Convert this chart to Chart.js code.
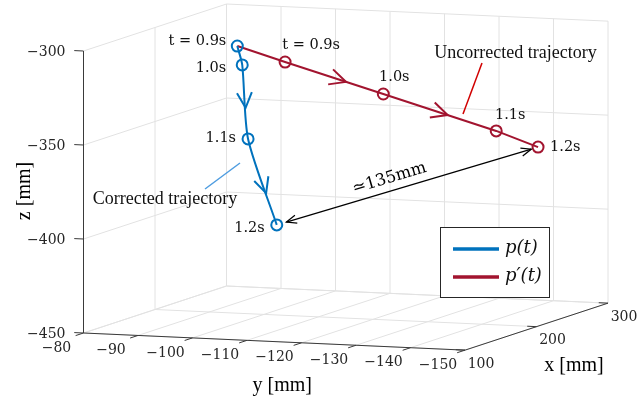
<!DOCTYPE html>
<html><head><meta charset="utf-8">
<script src="https://cdn.jsdelivr.net/npm/chart.js@4.4.0/dist/chart.umd.min.js"></script>
<style>html,body{margin:0;padding:0;background:#fff}canvas{display:block}</style>
</head><body>
<canvas id="c" width="639" height="402"></canvas>
<script>
// ---------------- data ----------------
const timesP = ['t = 0.9s', '1.0s', '1.1s', '1.2s'];
const pX = [200, 197, 180, 150];
const pY = [-95.1, -96.4, -99.7, -108.9];
const pZ = [-307.9, -317.4, -354.2, -395.0];

const timesQ = ['', 't = 0.9s', '1.0s', '1.1s', '1.2s'];
const qX = [200, 215, 235, 258, 270];
const qY = [-95.1, -101.9, -117.3, -135.0, -141.1];
const qZ = [-307.9, -317.4, -334.9, -355.1, -364.4];

const xTicks = [100, 200, 300];
const yTicks = [-80, -90, -100, -110, -120, -130, -140, -150];
const zTicks = [-450, -400, -350, -300];
const distLabel = '\u2243135mm';
const seriesNames = ['p(t)', 'p\u2032(t)'];

// ---------------- 3D view (orthographic) ----------------
const XL = [100, 300], YL = [-80, -150], ZL = [-450, -300];
const ORIGIN = [83.5, 333], EX = [0.715, -0.235], EY = [-5.45, -0.245], EZ = [0, -1.88];
function proj(x, y, z) {
  return {
    x: ORIGIN[0] + (x - XL[0]) * EX[0] + (y - YL[0]) * EY[0] + (z - ZL[0]) * EZ[0],
    y: ORIGIN[1] + (x - XL[0]) * EX[1] + (y - YL[0]) * EY[1] + (z - ZL[0]) * EZ[1]
  };
}
const pPts = pX.map((x, i) => proj(x, pY[i], pZ[i]));
const qPts = qX.map((x, i) => proj(x, qY[i], qZ[i]));

const BLUE = '#0072BD', RED = '#A2142F', GRID = '#e2e2e2', AXIS = '#3a3a3a';
const TICKFONT = '14px "DejaVu Serif"';
const TIMEFONT = '14.5px "DejaVu Serif"';
const TEXTFONT = '18px "Liberation Serif"';
const AXFONT = '20px "Liberation Serif"';

function px(chart, p) {
  return { x: chart.scales.x.getPixelForValue(p.x), y: chart.scales.y.getPixelForValue(p.y) };
}
function seg(ctx, a, b, color, w) {
  ctx.save(); ctx.strokeStyle = color; ctx.lineWidth = w; ctx.beginPath();
  ctx.moveTo(a.x, a.y); ctx.lineTo(b.x, b.y); ctx.stroke(); ctx.restore();
}
function seg3(chart, a, b, color, w) {
  seg(chart.ctx, px(chart, proj(a[0], a[1], a[2])), px(chart, proj(b[0], b[1], b[2])), color, w);
}
function text(ctx, s, p, font, align, color, rot) {
  ctx.save(); ctx.font = font; ctx.fillStyle = color || '#000';
  ctx.textAlign = align || 'center'; ctx.textBaseline = 'middle';
  ctx.translate(p.x, p.y); if (rot) ctx.rotate(rot);
  ctx.fillText(s, 0, 0); ctx.restore();
}
function chevron(ctx, apex, dir, len, ang, color, w) {
  const c = Math.cos(ang), s = Math.sin(ang);
  const bx = -dir.x, by = -dir.y;
  const w1 = { x: apex.x + len * (bx * c - by * s), y: apex.y + len * (bx * s + by * c) };
  const w2 = { x: apex.x + len * (bx * c + by * s), y: apex.y + len * (-bx * s + by * c) };
  ctx.save(); ctx.strokeStyle = color; ctx.lineWidth = w; ctx.lineJoin = 'miter';
  ctx.beginPath(); ctx.moveTo(w1.x, w1.y); ctx.lineTo(apex.x, apex.y); ctx.lineTo(w2.x, w2.y); ctx.stroke();
  ctx.restore();
}
function norm(a, b) { const dx = b.x - a.x, dy = b.y - a.y, L = Math.hypot(dx, dy); return { x: dx / L, y: dy / L, L }; }

const backPlugin = {
  id: 'back3d',
  beforeDatasetsDraw(chart) {
    const ctx = chart.ctx;
    // left wall (y = -80)
    xTicks.forEach(x => seg3(chart, [x, YL[0], ZL[0]], [x, YL[0], ZL[1]], GRID, 1));
    zTicks.forEach(z => seg3(chart, [XL[0], YL[0], z], [XL[1], YL[0], z], GRID, 1));
    // back wall (x = 300)
    yTicks.forEach(y => seg3(chart, [XL[1], y, ZL[0]], [XL[1], y, ZL[1]], GRID, 1));
    zTicks.forEach(z => seg3(chart, [XL[1], YL[0], z], [XL[1], YL[1], z], GRID, 1));
    // floor
    xTicks.forEach(x => seg3(chart, [x, YL[0], ZL[0]], [x, YL[1], ZL[0]], GRID, 1));
    yTicks.forEach(y => seg3(chart, [XL[0], y, ZL[0]], [XL[1], y, ZL[0]], GRID, 1));
    // axis lines
    seg3(chart, [XL[0], YL[0], ZL[0]], [XL[0], YL[0], ZL[1]], AXIS, 1);
    seg3(chart, [XL[0], YL[0], ZL[0]], [XL[0], YL[1], ZL[0]], AXIS, 1);
    seg3(chart, [XL[0], YL[1], ZL[0]], [XL[1], YL[1], ZL[0]], AXIS, 1);
    // ticks + labels
    zTicks.forEach(z => {
      seg3(chart, [XL[0], YL[0], z], [XL[0], YL[0] + 1.7, z], AXIS, 1);
      const p = px(chart, proj(XL[0], YL[0], z));
      text(ctx, '\u2212' + Math.abs(z), { x: p.x - 18, y: p.y + 1 }, TICKFONT, 'right', '#262626');
    });
    yTicks.forEach(y => {
      seg3(chart, [XL[0], y, ZL[0]], [XL[0] - 11, y, ZL[0]], AXIS, 1);
      const p = px(chart, proj(XL[0], y, ZL[0]));
      text(ctx, '\u2212' + Math.abs(y), { x: p.x - 27, y: p.y + 15 }, TICKFONT, 'center', '#262626');
    });
    xTicks.forEach(x => {
      seg3(chart, [x, YL[1], ZL[0]], [x, YL[1] + 1.7, ZL[0]], AXIS, 1);
      const p = px(chart, proj(x, YL[1], ZL[0]));
      text(ctx, String(x), { x: p.x + 16, y: p.y + 14 }, TICKFONT, 'center', '#262626');
    });
    // axis titles
    const zm = px(chart, proj(XL[0], YL[0], (ZL[0] + ZL[1]) / 2));
    text(ctx, 'z [mm]', { x: zm.x - 58.5, y: zm.y - 1 }, AXFONT, 'center', '#000', -Math.PI / 2);
    const ym = px(chart, proj(XL[0], (YL[0] + YL[1]) / 2, ZL[0]));
    text(ctx, 'y [mm]', { x: ym.x + 8, y: ym.y + 44 }, AXFONT, 'center', '#000');
    const xm = px(chart, proj((XL[0] + XL[1]) / 2, YL[1], ZL[0]));
    text(ctx, 'x [mm]', { x: xm.x + 37.5, y: xm.y + 39.5 }, AXFONT, 'center', '#000');
  }
};

const frontPlugin = {
  id: 'front3d',
  afterDatasetsDraw(chart) {
    const ctx = chart.ctx;
    const P = pPts.map(p => px(chart, p));
    const Q = qPts.map(p => px(chart, p));
    const ANG = 26 * Math.PI / 180;
    // direction arrows on trajectories
    [[1, 2, 0.58], [2, 3, 0.63]].forEach(([a, b, f]) => {
      const d = norm(P[a], P[b]);
      chevron(ctx, { x: P[a].x + (P[b].x - P[a].x) * f, y: P[a].y + (P[b].y - P[a].y) * f }, d, 17, ANG, BLUE, 2);
    });
    [[1, 2, 0.62], [2, 3, 0.57]].forEach(([a, b, f]) => {
      const d = norm(Q[a], Q[b]);
      chevron(ctx, { x: Q[a].x + (Q[b].x - Q[a].x) * f, y: Q[a].y + (Q[b].y - Q[a].y) * f }, d, 18, ANG, RED, 2);
    });
    // time labels
    const pOff = [[-11, -5], [-16, 3], [-12, -1], [-12, 3]];
    timesP.forEach((t, i) => text(ctx, t, { x: P[i].x + pOff[i][0], y: P[i].y + pOff[i][1] }, TIMEFONT, 'right', '#111'));
    const qOff = [null, [26, -17, 'center'], [11, -17, 'center'], [14, -16, 'center'], [12, 0, 'left']];
    timesQ.forEach((t, i) => { if (t) text(ctx, t, { x: Q[i].x + qOff[i][0], y: Q[i].y + qOff[i][1] }, TIMEFONT, qOff[i][2], '#111'); });
    // distance arrow between final points
    const a0 = P[P.length - 1], b0 = Q[Q.length - 1];
    const d = norm(a0, b0);
    const A = { x: a0.x + d.x * 10, y: a0.y + d.y * 10 }, B = { x: b0.x - d.x * 7, y: b0.y - d.y * 7 };
    seg(ctx, A, B, '#000', 1.2);
    chevron(ctx, B, d, 11, 22 * Math.PI / 180, '#000', 1.2);
    chevron(ctx, A, { x: -d.x, y: -d.y }, 11, 22 * Math.PI / 180, '#000', 1.2);
    const mid = { x: (A.x + B.x) / 2, y: (A.y + B.y) / 2 }, n = { x: d.y, y: -d.x };
    text(ctx, distLabel, { x: mid.x - 16.6 * d.x + 12.4 * n.x, y: mid.y - 16.6 * d.y + 12.4 * n.y }, '16.5px "DejaVu Serif"', 'center', '#000', Math.atan2(d.y, d.x));
    // annotations
    const s = p => px(chart, p);
    text(ctx, 'Uncorrected trajectory', s({ x: 515.5, y: 53 }), TEXTFONT, 'center', '#111');
    seg(ctx, s({ x: 482, y: 63 }), s({ x: 463, y: 114 }), '#d10000', 1.5);
    text(ctx, 'Corrected trajectory', s({ x: 165, y: 199 }), TEXTFONT, 'center', '#111');
    seg(ctx, s({ x: 240, y: 163 }), s({ x: 205, y: 189 }), '#4f9de0', 1.5);
    // legend
    const L = s({ x: 440.5, y: 227.5 }), R = s({ x: 549.5, y: 297.5 });
    ctx.save(); ctx.fillStyle = '#fff'; ctx.fillRect(L.x, L.y, R.x - L.x, R.y - L.y);
    ctx.strokeStyle = '#262626'; ctx.lineWidth = 1; ctx.strokeRect(L.x, L.y, R.x - L.x, R.y - L.y); ctx.restore();
    [[BLUE, 249], [RED, 277]].forEach(([c, yy], i) => {
      seg(ctx, s({ x: 453, y: yy }), s({ x: 499, y: yy }), c, 3.5);
      text(ctx, seriesNames[i], s({ x: 505, y: yy - 1 }), 'italic 18px "DejaVu Serif"', 'left', '#111');
    });
  }
};

new Chart(document.getElementById('c').getContext('2d'), {
  type: 'scatter',
  data: {
    datasets: [
      { label: seriesNames[0], data: pPts, showLine: true, borderColor: BLUE, borderWidth: 2, tension: 0.25,
        pointRadius: 5.5, pointBorderWidth: 2, pointBorderColor: BLUE, pointBackgroundColor: 'rgba(0,0,0,0)', clip: false },
      { label: seriesNames[1], data: qPts, showLine: true, borderColor: RED, borderWidth: 2, tension: 0,
        pointRadius: timesQ.map(t => t ? 5.5 : 0), pointBorderWidth: 2, pointBorderColor: RED, pointBackgroundColor: 'rgba(0,0,0,0)', clip: false }
    ]
  },
  options: {
    responsive: false, animation: false, events: [],
    layout: { padding: 0, autoPadding: false },
    plugins: { legend: { display: false }, tooltip: { enabled: false } },
    scales: {
      x: { type: 'linear', min: 0, max: 639, display: false },
      y: { type: 'linear', min: 0, max: 402, reverse: true, display: false }
    }
  },
  plugins: [backPlugin, frontPlugin]
});
</script>
</body></html>
